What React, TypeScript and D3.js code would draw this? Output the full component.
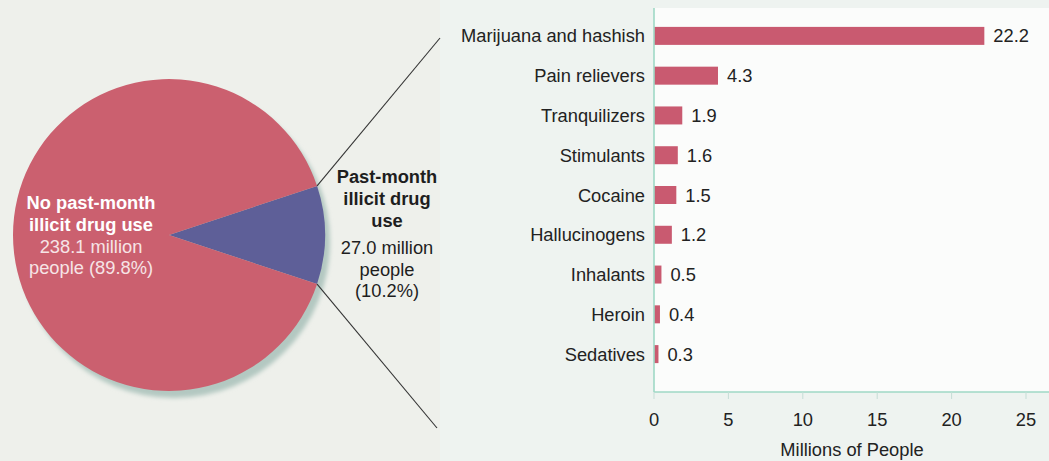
import React from "react";
import * as d3 from "d3";

const categories = [
  "Marijuana and hashish",
  "Pain relievers",
  "Tranquilizers",
  "Stimulants",
  "Cocaine",
  "Hallucinogens",
  "Inhalants",
  "Heroin",
  "Sedatives",
];
const values = [22.2, 4.3, 1.9, 1.6, 1.5, 1.2, 0.5, 0.4, 0.3];
const valueLabels = ["22.2", "4.3", "1.9", "1.6", "1.5", "1.2", "0.5", "0.4", "0.3"];
const xTicks = [0, 5, 10, 15, 20, 25];

const pieNames = ["Past-month illicit drug use", "No past-month illicit drug use"];
const pieValues = [27.0, 238.1];
const pieBold = [["Past-month", "illicit drug", "use"], ["No past-month", "illicit drug use"]];
const pieDetail = [["27.0 million", "people", "(10.2%)"], ["238.1 million", "people (89.8%)"]];

const W = 1049;
const H = 461;
const FONT = "'Liberation Sans', Arial, Helvetica, sans-serif";

export default function App() {
  const x = d3.scaleLinear().domain([0, 25]).range([654, 1026]);
  const y = d3.scalePoint<string>().domain(categories).range([16, 374]).padding(0.5);
  const barH = 18;
  const plotTop = 8;
  const plotBottom = 392;
  const fs = 18.3;

  const cx = 169;
  const cy = 235;
  const r = 156;
  const total = d3.sum(pieValues);
  const half = (pieValues[0] / total) * Math.PI;
  const pie = d3
    .pie<number>()
    .sort(null)
    .startAngle(Math.PI / 2 - half)
    .endAngle(Math.PI / 2 - half + 2 * Math.PI);
  const arcs = pie(pieValues);
  const arc = d3.arc<d3.PieArcDatum<number>>().innerRadius(0).outerRadius(r);
  const pieColors = ["#5e5f98", "#cb606f"];

  const blue = arcs[0];
  const p0 = [cx + r * Math.sin(blue.startAngle), cy - r * Math.cos(blue.startAngle)];
  const p1 = [cx + r * Math.sin(blue.endAngle), cy - r * Math.cos(blue.endAngle)];

  return (
    <svg
      width={W}
      height={H}
      style={{ position: "absolute", left: 0, top: 0, display: "block" }}
      fontFamily={FONT}
    >
      <defs>
        <filter id="blur" x="-10%" y="-10%" width="120%" height="120%">
          <feGaussianBlur stdDeviation="2" />
        </filter>
      </defs>
      <rect x={0} y={0} width={W} height={H} fill="#eef0eb" />
      <rect x={440} y={0} width={W - 440} height={H} fill="#eef3f0" />
      {/* plot area */}
      <rect x={x(0)} y={plotTop} width={W - x(0)} height={plotBottom - plotTop} fill="#fbfcfb" />

      {/* pie shadow */}
      <circle cx={cx + 5} cy={cy + 7} r={r} fill="#b3c8c1" filter="url(#blur)" />
      {/* pie */}
      <g transform={`translate(${cx},${cy})`}>
        {arcs.map((a, i) => (
          <path key={pieNames[i]} d={arc(a) || ""} fill={pieColors[i]} />
        ))}
      </g>

      {/* connector lines */}
      <line x1={p0[0]} y1={p0[1]} x2={440} y2={38} stroke="#333" strokeWidth={1.1} />
      <line x1={p1[0]} y1={p1[1]} x2={437} y2={428} stroke="#333" strokeWidth={1.1} />

      {/* pie labels: big slice */}
      <g textAnchor="middle" fontSize={fs}>
        {pieBold[1].map((t, i) => (
          <text key={t} x={91} y={209 + i * 21.5} fill="#ffffff" fontWeight="bold">
            {t}
          </text>
        ))}
        {pieDetail[1].map((t, i) => (
          <text key={t} x={91} y={253 + i * 21} fill="#f6e4e6">
            {t}
          </text>
        ))}
      </g>
      {/* pie labels: small slice */}
      <g textAnchor="middle" fontSize={fs} fill="#1e1e1e">
        {pieBold[0].map((t, i) => (
          <text key={t} x={387} y={183 + i * 22} fontWeight="bold">
            {t}
          </text>
        ))}
        {pieDetail[0].map((t, i) => (
          <text key={t} x={387} y={254 + i * 21.5}>
            {t}
          </text>
        ))}
      </g>

      {/* bars */}
      {categories.map((c, i) => (
        <g key={c}>
          <rect
            x={x(0)}
            y={(y(c) as number) - barH / 2}
            width={x(values[i]) - x(0)}
            height={barH}
            fill="#c95a70"
          />
          <text x={x(values[i]) + 9} y={(y(c) as number) + 6.5} fontSize={fs} fill="#222">
            {valueLabels[i]}
          </text>
          <text
            x={645}
            y={(y(c) as number) + 6.5}
            fontSize={fs}
            fill="#222"
            textAnchor="end"
          >
            {c}
          </text>
        </g>
      ))}

      {/* axes */}
      <line x1={x(0)} y1={plotTop} x2={x(0)} y2={plotBottom} stroke="#9fd8c6" strokeWidth={1.6} />
      <line x1={x(0)} y1={plotBottom} x2={W} y2={plotBottom} stroke="#9fd8c6" strokeWidth={1.6} />
      {xTicks.map((t) => (
        <g key={t}>
          <line x1={x(t)} y1={plotBottom} x2={x(t)} y2={plotBottom + 7} stroke="#c5ddd6" strokeWidth={1} />
          <text x={x(t)} y={426} fontSize={fs} textAnchor="middle" fill="#222">
            {t}
          </text>
        </g>
      ))}
      <text x={852} y={456} fontSize={fs} textAnchor="middle" fill="#222">
        Millions of People
      </text>
    </svg>
  );
}
